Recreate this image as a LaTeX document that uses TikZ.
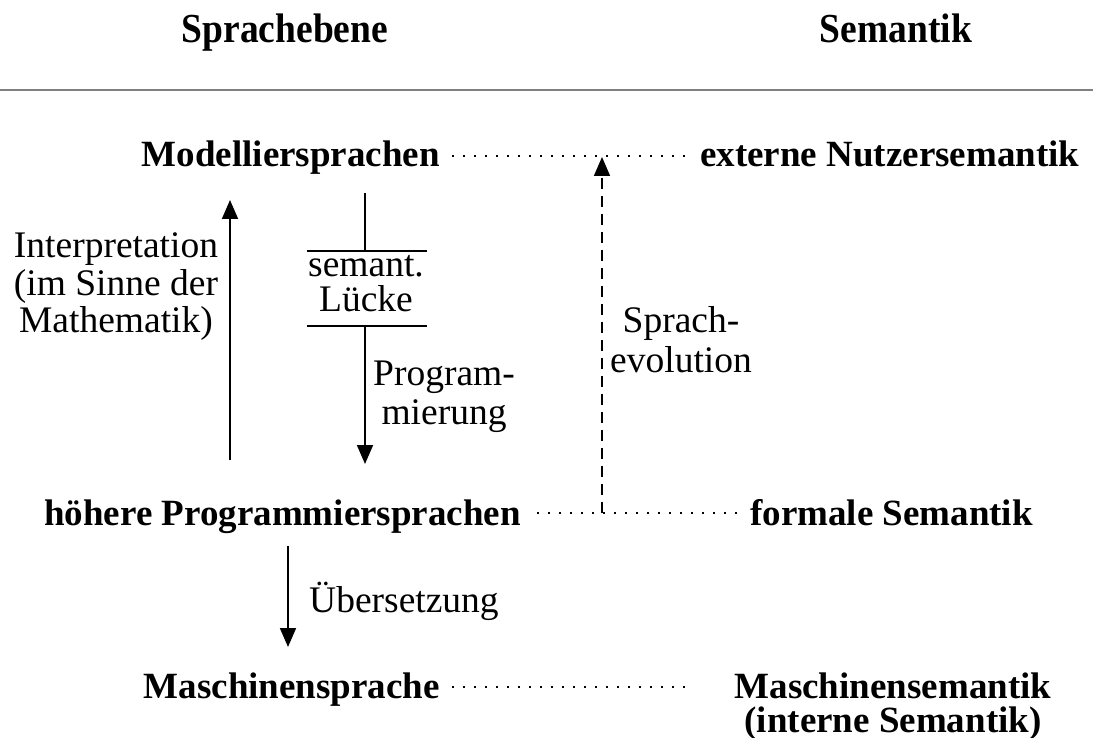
\documentclass[tikz,border=0pt]{standalone}
\usepackage{fontspec}
\setmainfont{Liberation Serif}
\usetikzlibrary{arrows.meta}
\begin{document}
\begin{tikzpicture}[x=1pt,y=-1pt,
  lbl/.style={font=\fontsize{37.5}{37}\selectfont, inner sep=0pt},
  blbl/.style={font=\fontsize{37}{35}\selectfont\bfseries, inner sep=0pt},
  hdr/.style={font=\fontsize{37.5}{40}\selectfont\bfseries, inner sep=0pt},
  tip/.style={-{Triangle[width=16pt,length=19pt]}},
  arr/.style={line width=1.8pt, tip},
  plain/.style={line width=1.8pt},
  dots/.style={line width=1.8pt, dash pattern=on 1.8pt off 9.2pt},
  dsh/.style={line width=1.7pt, dash pattern=on 11pt off 7pt},
  sep/.style={line width=1.6pt, draw=black!50}]
\useasboundingbox (0,0) rectangle (1093,738);

% headers
\node[hdr, anchor=base] (hS) at (285,43) {\scalebox{1}[1.1]{Sprachebene}};
\node[hdr, anchor=base] (hSem) at (896,43) {\scalebox{1}[1.1]{Semantik}};
\coordinate (sepL) at (0,90);
\coordinate (sepR) at (1093,90);
\draw[sep] (sepL) -- (sepR);

% language levels
\node[blbl, anchor=base east] (mod) at (440,167) {Modelliersprachen};
\node[blbl, anchor=base west] (ext) at (700,167) {externe Nutzersemantik};
\node[blbl, anchor=base east] (hoe) at (521,525) {höhere Programmiersprachen};
\node[blbl, anchor=base west] (form) at (750,525) {formale Semantik};
\node[blbl, anchor=base east] (masch) at (440,698) {Maschinensprache};
\node[blbl, anchor=base] (msem1) at (893,698) {Maschinensemantik};
\node[blbl, anchor=base] (msem2) at (893,732) {(interne Semantik)};

% dotted links
\coordinate (d1a) at (452,156); \coordinate (d1b) at (690,156);
\coordinate (d2a) at (537,513); \coordinate (d2b) at (744,513);
\coordinate (d3a) at (452,687); \coordinate (d3b) at (692,687);
\draw[dots] (d1a) -- (d1b);
\draw[dots] (d2a) -- (d2b);
\draw[dots] (d3a) -- (d3b);

% Interpretation
\coordinate (iB) at (230,460); \coordinate (iT) at (230,200);
\draw[arr] (iB) -- (iT);
\node[lbl, anchor=base] (interp1) at (116,258) {Interpretation};
\node[lbl, anchor=base] (interp2) at (116,295) {(im Sinne der};
\node[lbl, anchor=base] (interp3) at (116,332) {Mathematik)};

% semantic gap and Programmierung
\coordinate (gTop) at (365,193);
\coordinate (g1) at (365,251);
\coordinate (g1L) at (307,251); \coordinate (g1R) at (427,251);
\coordinate (g2) at (365,326);
\coordinate (g2L) at (307,326); \coordinate (g2R) at (427,326);
\coordinate (gBot) at (365,464);
\draw[plain] (gTop) -- (g1);
\draw[plain] (g1L) -- (g1R);
\draw[plain] (g2L) -- (g2R);
\draw[arr] (g2) -- (gBot);
\node[lbl, anchor=base] (gap1) at (366,277) {semant.};
\node[lbl, anchor=base] (gap2) at (366,312) {Lücke};
\node[lbl, anchor=base] (prog1) at (444,385) {Program-};
\node[lbl, anchor=base] (prog2) at (444,424) {mierung};

% Sprachevolution
\coordinate (eB) at (602,513); \coordinate (eT) at (602,157);
\draw[dsh, tip] (eB) -- (eT);
\node[lbl, anchor=base] (evo1) at (681,332) {Sprach-};
\node[lbl, anchor=base] (evo2) at (681,372) {evolution};

% Uebersetzung
\coordinate (uT) at (288,546); \coordinate (uB) at (288,647);
\draw[arr] (uT) -- (uB);
\node[lbl, anchor=base west] (ueb) at (309,612) {Übersetzung};
\end{tikzpicture}
\end{document}
